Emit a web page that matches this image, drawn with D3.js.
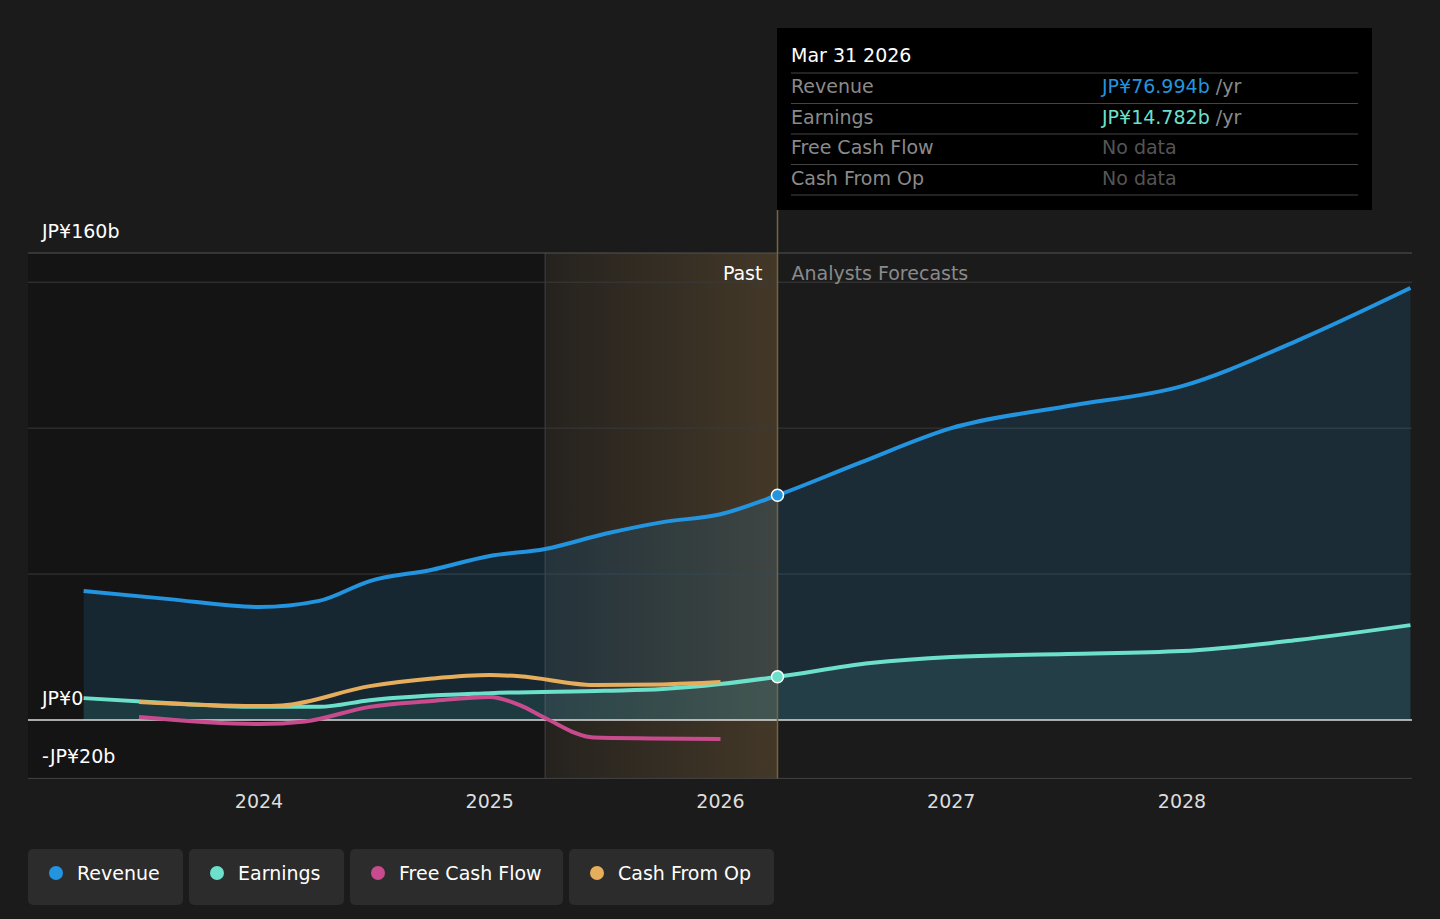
<!DOCTYPE html>
<html><head><meta charset="utf-8">
<script src="https://cdn.jsdelivr.net/npm/d3@7"></script>
<style>body{margin:0;background:#1b1b1b;font-family:"DejaVu Sans",sans-serif;}</style>
</head><body><svg id="c" width="1440" height="919"></svg>
<script>
const revenueT=[2023.24,2023.6,2024.0,2024.26,2024.48,2024.75,2025.0,2025.24,2025.5,2025.75,2026.0,2026.247,2026.6,2027.0,2027.5,2028.0,2028.5,2028.99];
const revenueV=[44.2,41.5,38.7,40.8,47.6,51.5,56.2,58.6,63.8,67.8,70.5,77,88,100,107.5,114.4,130,148];
const earnT=[2023.24,2023.6,2024.0,2024.26,2024.48,2025.0,2025.5,2025.75,2026.0,2026.247,2026.65,2027.0,2027.5,2028.0,2028.5,2028.99];
const earnV=[7.5,5.8,4.5,4.5,6.8,9.2,10,10.6,12.3,14.8,19.5,21.6,22.6,23.6,27.4,32.5];
const fcfT=[2023.48,2024.0,2024.2,2024.48,2024.75,2025.0,2025.13,2025.24,2025.45,2025.7,2026.0];
const fcfV=[1,-1.4,-0.5,4.5,6.5,7.9,5.1,0.7,-6,-6.3,-6.5];
const cfoT=[2023.48,2024.0,2024.1,2024.48,2024.75,2025.0,2025.13,2025.45,2025.75,2026.0];
const cfoV=[6.2,4.8,5,11.6,14.2,15.4,15,12,12.2,13];
const xTicks=[2024,2025,2026,2027,2028];
const yTickLabels=[[160,"JP¥160b"],[0,"JP¥0"],[-20,"-JP¥20b"]];
const grid=[50,100,150];
const legend=[["Revenue","#2394df"],["Earnings","#6ce0cb"],["Free Cash Flow","#c84b8e"],["Cash From Op","#e6ad5c"]];

const svg=d3.select("#c");
const x=d3.scaleLinear().domain([2024,2028]).range([259,1182]);
const y=d3.scaleLinear().domain([0,160]).range([720,253]);
const now=2026.247;
svg.append("rect").attr("x",28).attr("y",253).attr("width",x(2025.24)-28).attr("height",y(-20)-253).attr("fill","#141414");
const g=svg.append("defs").append("linearGradient").attr("id","band");
g.append("stop").attr("offset","0").attr("stop-color","#e6ad5c").attr("stop-opacity",0.05);
g.append("stop").attr("offset","1").attr("stop-color","#e6ad5c").attr("stop-opacity",0.2);
svg.append("rect").attr("x",x(2025.24)).attr("y",253).attr("width",x(now)-x(2025.24)).attr("height",y(-20)-253).attr("fill","url(#band)");
svg.append("line").attr("x1",x(2025.24)).attr("x2",x(2025.24)).attr("y1",253).attr("y2",y(-20)).attr("stroke","#444");
grid.forEach(v=>svg.append("line").attr("x1",28).attr("x2",1412).attr("y1",y(v)).attr("y2",y(v)).attr("stroke","#3a3a3a"));
svg.append("line").attr("x1",28).attr("x2",1412).attr("y1",y(160)).attr("y2",y(160)).attr("stroke","#555");
svg.append("line").attr("x1",28).attr("x2",1412).attr("y1",y(-20)).attr("y2",y(-20)).attr("stroke","#444");
const mk=(T,V)=>T.map((t,i)=>[t,V[i]]);
const area=d3.area().x(d=>x(d[0])).y0(y(0)).y1(d=>y(d[1])).curve(d3.curveMonotoneX);
const line=d3.line().x(d=>x(d[0])).y(d=>y(d[1])).curve(d3.curveMonotoneX);
svg.append("path").attr("d",area(mk(revenueT,revenueV))).attr("fill","#2394df").attr("opacity",0.15);
svg.append("path").attr("d",area(mk(earnT,earnV))).attr("fill","#6ce0cb").attr("opacity",0.1);
svg.append("line").attr("x1",28).attr("x2",1412).attr("y1",y(0)).attr("y2",y(0)).attr("stroke","#ddd").attr("stroke-width",1.5);
[[revenueT,revenueV,"#2394df"],[earnT,earnV,"#6ce0cb"],[fcfT,fcfV,"#c84b8e"],[cfoT,cfoV,"#e6ad5c"]].forEach(([T,V,c])=>
 svg.append("path").attr("d",line(mk(T,V))).attr("fill","none").attr("stroke",c).attr("stroke-width",4));
svg.append("line").attr("x1",x(now)).attr("x2",x(now)).attr("y1",210).attr("y2",y(-20)).attr("stroke","#7a6440").attr("stroke-width",1.5);
[[77,"#2394df"],[14.8,"#6ce0cb"]].forEach(([v,c])=>svg.append("circle").attr("cx",x(now)).attr("cy",y(v)).attr("r",6).attr("fill",c).attr("stroke","#fff").attr("stroke-width",1.5));
svg.append("text").attr("x",x(now)-15).attr("y",280).attr("text-anchor","end").attr("fill","#fff").attr("font-size",19).text("Past");
svg.append("text").attr("x",x(now)+14).attr("y",280).attr("fill","#8a8a8a").attr("font-size",19).text("Analysts Forecasts");
yTickLabels.forEach(([v,t])=>svg.append("text").attr("x",42).attr("y",y(v)-15).attr("fill","#fff").attr("font-size",19).text(t));
xTicks.forEach(t=>svg.append("text").attr("x",x(t)).attr("y",808).attr("text-anchor","middle").attr("fill","#ddd").attr("font-size",19).text(t));
svg.append("rect").attr("x",777).attr("y",28).attr("width",595).attr("height",182).attr("fill","#000");
svg.append("text").attr("x",791).attr("y",62).attr("fill","#fff").attr("font-size",19).text("Mar 31 2026");
const rows=[["Revenue","JP¥76.994b","#2394df"],["Earnings","JP¥14.782b","#6ce0cb"],["Free Cash Flow","No data",null],["Cash From Op","No data",null]];
rows.forEach((r,i)=>{const yy=93+i*30.5;
 svg.append("line").attr("x1",791).attr("x2",1358).attr("y1",yy-20).attr("y2",yy-20).attr("stroke","#444");
 svg.append("text").attr("x",791).attr("y",yy).attr("fill","#8a8a8a").attr("font-size",19).text(r[0]);
 const t=svg.append("text").attr("x",1102).attr("y",yy).attr("font-size",19);
 if(r[2]){t.append("tspan").attr("fill",r[2]).text(r[1]);t.append("tspan").attr("fill","#8a8a8a").text(" /yr");}
 else t.attr("fill","#555").text(r[1]);});
svg.append("line").attr("x1",791).attr("x2",1358).attr("y1",195).attr("y2",195).attr("stroke","#444");
let lx=28;const widths=[155,155,213,205];
legend.forEach(([n,c],i)=>{const w=widths[i];
 svg.append("rect").attr("x",lx).attr("y",849).attr("width",w).attr("height",56).attr("rx",5).attr("fill","#2c2c2c");
 svg.append("circle").attr("cx",lx+28).attr("cy",873).attr("r",7).attr("fill",c);
 svg.append("text").attr("x",lx+49).attr("y",880).attr("fill","#fff").attr("font-size",19).text(n);
 lx+=w+6;});
</script></body></html>
